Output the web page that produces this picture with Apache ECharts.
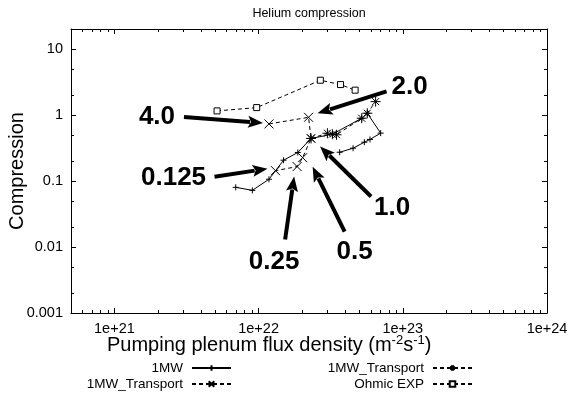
<!DOCTYPE html>
<html>
<head>
<meta charset="utf-8">
<script src="https://cdn.jsdelivr.net/npm/echarts@6/dist/echarts.min.js"></script>
<style>
html, body { margin: 0; padding: 0; background: #fff; }
#chart { width: 569px; height: 396px; }
</style>
</head>
<body>
<div id="chart"></div>
<script>
// 1MW (solid line, + markers)
const mw1X = [6.94e21, 9.05e21, 1.18e22, 1.49e22, 1.87e22, 2.31e22, 3.25e22, 5.19e22, 5.67e22, 7.02e22, 5.92e22, 5.41e22, 4.52e22, 3.65e22]
const mw1Y = [0.080, 0.072, 0.106, 0.206, 0.27, 0.44, 0.51, 0.89, 1.06, 0.53, 0.425, 0.386, 0.313, 0.272]

// 1MW_Transport (dashed, x markers), one point per ratio label
const trLabels = ['4.0', '2.0', '1.0', '0.5', '0.25', '0.125']
const trX = [1.18e22, 2.22e22, 2.31e22, 2.02e22, 1.85e22, 1.31e22]
const trY = [0.73, 0.92, 0.44, 0.225, 0.165, 0.143]

// 1MW_Transport (dashed, * markers)
const trStarX = [2.31e22, 3.0e22, 3.25e22, 3.47e22, 5.19e22, 5.67e22, 6.48e22]
const trStarY = [0.44, 0.528, 0.51, 0.50, 0.89, 1.06, 1.59]

// Ohmic EXP (dashed, small squares)
const ohmX = [5.15e21, 9.7e21, 2.68e22, 3.7e22, 4.67e22]
const ohmY = [1.15, 1.29, 3.35, 2.88, 2.37]

const xMajor = [1e21, 1e22, 1e23, 1e24]
const xTickLabels = ['1e+21', '1e+22', '1e+23', '1e+24']
const yMajor = [0.001, 0.01, 0.1, 1, 10]
const yTickLabels = ['0.001', '0.01', '0.1', '1', '10']

const FONT = '"Liberation Sans", Arial, Helvetica, sans-serif'
// tiny headroom on the max so the 1e+24 tick survives float rounding
const xRange = [5e20, 1.00001e24]
const yRange = [0.001, 20]

// gnuplot style minor ticks: 2..9 per decade on x, 2 and 5 on y
const xMinor = []
for (let e = 20; e < 24; e++) for (let m = 2; m <= 9; m++) {
  const v = m * Math.pow(10, e)
  if (v > xRange[0] && v < xRange[1]) xMinor.push(v)
}
const yMinor = []
for (let e = -3; e <= 1; e++) for (const m of [2, 5]) {
  const v = m * Math.pow(10, e)
  if (v > yRange[0] && v < yRange[1]) yMinor.push(v)
}

const zip = (xs, ys) => xs.map((x, i) => [x, ys[i]])

const PLUS = 'path://M0,5L10,5M5,0L5,10'
const CROSS = 'path://M0,0L10,10M10,0L0,10'
const STAR = 'path://M0,5L10,5M5,0L5,10M1.5,1.5L8.5,8.5M8.5,1.5L1.5,8.5'

const legendText = {
  '1MW': '1MW',
  '1MW_Transport_x': '1MW_Transport',
  '1MW_Transport_star': '1MW_Transport',
  'Ohmic EXP': 'Ohmic EXP',
}

// arrow annotations, offsets in px relative to the labelled point
const notes = [
  { tail: [-85, -7], tip: [-6, -1], text: [-112, -7] },
  { tail: [78, -26], tip: [9, -4], text: [101, -30] },
  { tail: [60, 58], tip: [9, 8], text: [81, 69] },
  { tail: [42, 74], tip: [10, 9], text: [52, 94] },
  { tail: [-12, 73], tip: [-3, 10], text: [-23, 95] },
  { tail: [-61, 6], tip: [-8, -2], text: [-102, 7] },
]

function logAxis(pos, gridIndex, range, ticks, tickLen, withLine, labelFmt) {
  return {
    type: 'log',
    logBase: 10,
    gridIndex: gridIndex,
    position: pos,
    min: range[0],
    max: range[1],
    axisLine: { show: withLine, onZero: false, lineStyle: { color: '#000', width: 1 } },
    axisTick: { show: true, inside: true, length: tickLen, customValues: ticks, lineStyle: { color: '#000', width: 1 } },
    axisLabel: labelFmt
      ? { show: true, customValues: ticks, formatter: labelFmt, color: '#000', fontSize: 14.5, fontFamily: FONT, margin: 8, showMaxLabel: true, showMinLabel: true }
      : { show: false },
    splitLine: { show: false },
  }
}

const xFmt = (v) => xTickLabels[Math.round(Math.log10(v)) - 21]
const yFmt = (v) => yTickLabels[Math.round(Math.log10(v)) + 3]

function lineSeries(name, data, symbol, size, dashed, extra) {
  return Object.assign({
    name: name,
    type: 'line',
    data: data,
    symbol: symbol,
    symbolSize: size,
    showAllSymbol: true,
    lineStyle: { color: '#000', width: 1, type: dashed ? [4, 3] : 'solid' },
    itemStyle: { color: '#000', borderColor: '#000', borderWidth: 1 },
    emphasis: { disabled: true },
    z: 3,
  }, extra || {})
}

const chart = echarts.init(document.getElementById('chart'))

const legendBase = {
  orient: 'horizontal',
  align: 'right',
  padding: 0,
  itemWidth: 39,
  itemHeight: 7,
  selectedMode: false,
  formatter: (n) => legendText[n],
  textStyle: { fontSize: 13.5, color: '#000', fontFamily: FONT, padding: [0, 4, 0, 0] },
}

chart.setOption({
  animation: false,
  backgroundColor: '#fff',
  title: {
    text: 'Helium compression',
    left: 309,
    top: 7,
    textAlign: 'center',
    padding: 0,
    textStyle: { fontSize: 12.5, fontWeight: 'normal', color: '#000', fontFamily: FONT },
  },
  grid: [
    { left: 71, right: 22, top: 29, bottom: 83, outerBoundsMode: 'none' },
    { left: 71, right: 22, top: 29, bottom: 83, outerBoundsMode: 'none' },
  ],
  xAxis: [
    logAxis('bottom', 0, xRange, xMajor, 5, true, xFmt),
    logAxis('top', 0, xRange, xMajor, 5, true, null),
    logAxis('bottom', 1, xRange, xMinor, 3, false, null),
    logAxis('top', 1, xRange, xMinor, 3, false, null),
  ],
  yAxis: [
    Object.assign(logAxis('left', 0, yRange, yMajor, 5, true, yFmt), {
      name: 'Compression',
      nameLocation: 'middle',
      nameGap: 44,
      nameMoveOverlap: false,
      nameTextStyle: { fontSize: 20, color: '#000', fontFamily: FONT },
    }),
    logAxis('right', 0, yRange, yMajor, 5, true, null),
    logAxis('left', 1, yRange, yMinor, 3, false, null),
    logAxis('right', 1, yRange, yMinor, 3, false, null),
  ],
  legend: [
    Object.assign({}, legendBase, { data: ['1MW'], right: 337, top: 361 }),
    Object.assign({}, legendBase, { data: ['1MW_Transport_x'], right: 337, top: 377 }),
    Object.assign({}, legendBase, { data: ['1MW_Transport_star'], right: 96, top: 361 }),
    Object.assign({}, legendBase, { data: ['Ohmic EXP'], right: 96, top: 377 }),
  ],
  series: [
    lineSeries('1MW', zip(mw1X, mw1Y), PLUS, 6, false),
    lineSeries('1MW_Transport_x', zip(trX, trY), CROSS, 9, true),
    lineSeries('1MW_Transport_star', zip(trStarX, trStarY), STAR, 10, true),
    lineSeries('Ohmic EXP', zip(ohmX, ohmY), 'rect', 6, true, {
      itemStyle: { color: '#fff', borderColor: '#000', borderWidth: 1 },
    }),
  ],
})

// x axis title with superscripts, then arrows + ratio labels anchored on the 1MW_Transport points
const graphics = [{
  type: 'text',
  left: 107,
  top: 334,
  style: {
    text: 'Pumping plenum flux density (m{sup|-2}s{sup|-1})',
    font: '20px ' + FONT,
    fill: '#000',
    rich: {
      sup: { fontSize: 13, fontFamily: FONT, fill: '#000', verticalAlign: 'top', lineHeight: 23 },
    },
  },
}]
notes.forEach((n, i) => {
  const p = chart.convertToPixel({ gridIndex: 0 }, [trX[i], trY[i]])
  const tail = [p[0] + n.tail[0], p[1] + n.tail[1]]
  const tip = [p[0] + n.tip[0], p[1] + n.tip[1]]
  const dx = tip[0] - tail[0]
  const dy = tip[1] - tail[1]
  const len = Math.sqrt(dx * dx + dy * dy)
  const ux = dx / len
  const uy = dy / len
  const headL = 15
  const headW = 6
  const bx = tip[0] - ux * headL
  const by = tip[1] - uy * headL
  graphics.push({
    type: 'line',
    shape: { x1: tail[0], y1: tail[1], x2: bx + ux * 2, y2: by + uy * 2 },
    style: { stroke: '#000', lineWidth: 4 },
    z: 10,
  })
  graphics.push({
    type: 'polygon',
    shape: { points: [tip, [bx - uy * headW, by + ux * headW], [bx + ux * 3, by + uy * 3], [bx + uy * headW, by - ux * headW]] },
    style: { fill: '#000' },
    z: 10,
  })
  graphics.push({
    type: 'text',
    x: p[0] + n.text[0],
    y: p[1] + n.text[1],
    style: {
      text: trLabels[i],
      font: 'bold 26px ' + FONT,
      fill: '#000',
      align: 'center',
      verticalAlign: 'middle',
    },
    z: 10,
  })
})
chart.setOption({ graphic: graphics })
</script>
</body>
</html>
